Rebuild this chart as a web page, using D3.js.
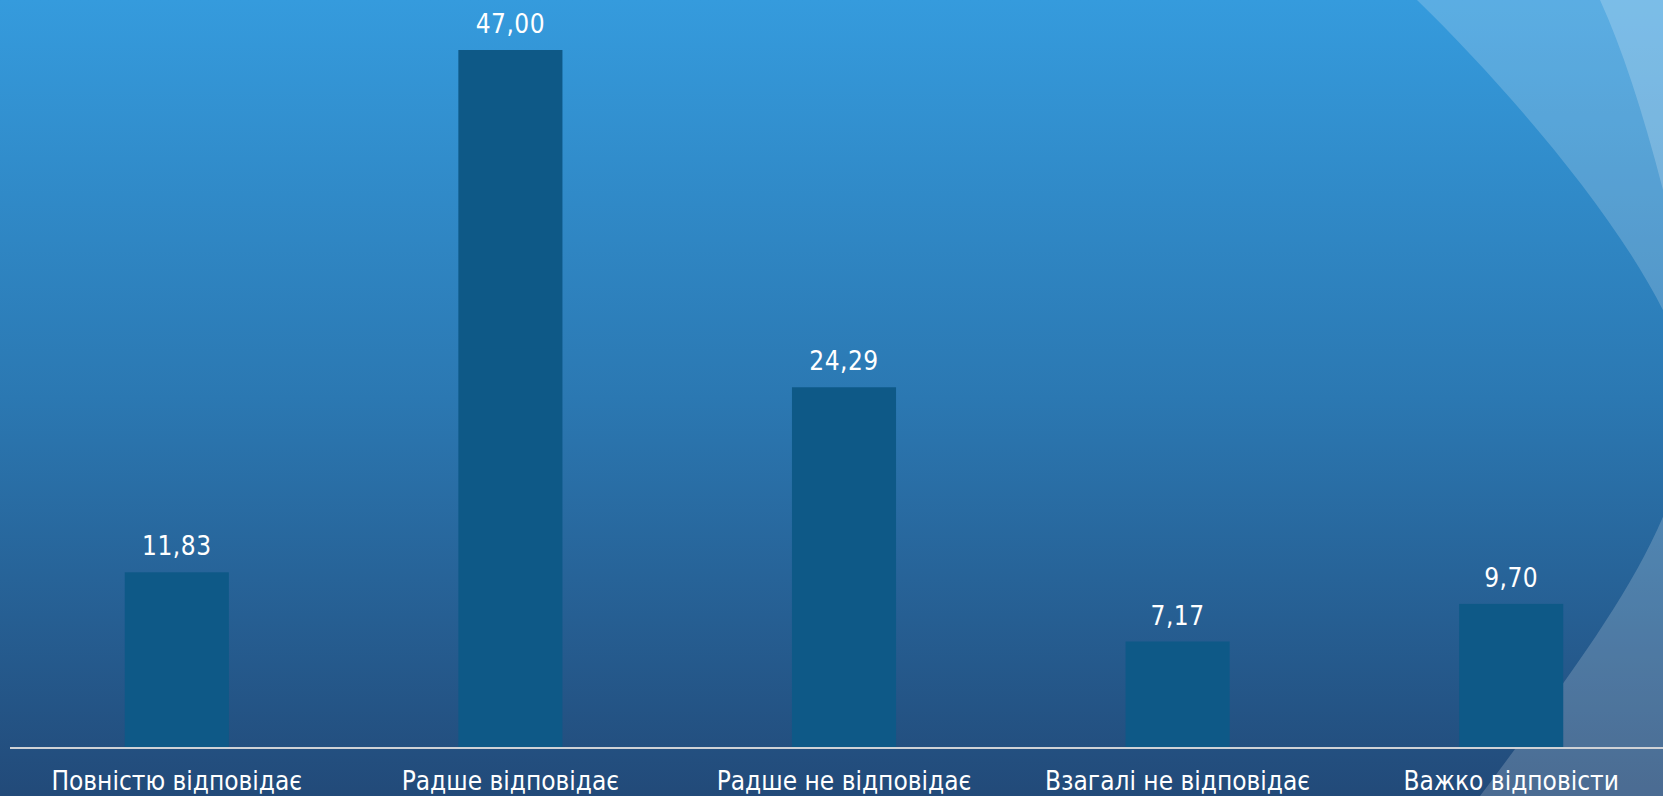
<!DOCTYPE html>
<html>
<head>
<meta charset="utf-8">
<script src="https://cdn.jsdelivr.net/npm/d3@7"></script>
<style>
  html, body { margin: 0; padding: 0; overflow: hidden; background: #2b77b0; }
  svg { display: block; }
</style>
</head>
<body>
<svg id="chart" width="1663" height="796"></svg>
<script>
// ---- data ----
const categories = ["Повністю відповідає", "Радше відповідає", "Радше не відповідає", "Взагалі не відповідає", "Важко відповісти"];
const values = [11.83, 47.00, 24.29, 7.17, 9.70];

// ---- layout ----
const W = 1663, H = 796;
const svg = d3.select("#chart");
const defs = svg.append("defs");

const grad = defs.append("linearGradient").attr("id", "bg")
  .attr("x1", 0).attr("y1", 0).attr("x2", 0).attr("y2", 1);
grad.append("stop").attr("offset", "0%").attr("stop-color", "#359bdd");
grad.append("stop").attr("offset", "50%").attr("stop-color", "#2b78b2");
grad.append("stop").attr("offset", "100%").attr("stop-color", "#224a79");

svg.append("rect").attr("width", W).attr("height", H).attr("fill", "url(#bg)");

// decorative translucent swoosh (background design, not data)
const sw = d3.path();
sw.moveTo(1417, 0);
sw.bezierCurveTo(1530, 110, 1690, 300, 1690, 400);
sw.bezierCurveTo(1690, 520, 1592, 646, 1480, 796);
sw.lineTo(1700, 796); sw.lineTo(1700, 0); sw.closePath();
svg.append("path").attr("d", sw.toString())
  .attr("fill", "#ffffff").attr("fill-opacity", 0.19);

const st = d3.path();
st.moveTo(1600, 0);
st.quadraticCurveTo(1632, 70, 1663, 190);
st.quadraticCurveTo(1675, 240, 1690, 320);
st.lineTo(1700, 320); st.lineTo(1700, 0); st.closePath();
svg.append("path").attr("d", st.toString())
  .attr("fill", "#ffffff").attr("fill-opacity", 0.2);

// scales
const x = d3.scaleBand().domain(categories).range([10, 1678])
  .paddingInner(0.688).paddingOuter(0.344);
const y = d3.scaleLinear().domain([0, 47]).range([748, 50]);

const fmt = v => d3.format(".2f")(v).replace(".", ",");
const FONT = "'DejaVu Sans Condensed', 'DejaVu Sans', sans-serif";

// bars
svg.append("g").selectAll("rect").data(values).join("rect")
  .attr("x", (d, i) => x(categories[i]))
  .attr("y", d => y(d))
  .attr("width", x.bandwidth())
  .attr("height", d => y(0) - y(d))
  .attr("fill", "#0e5987");

// value labels
svg.append("g").selectAll("text").data(values).join("text")
  .attr("x", (d, i) => x(categories[i]) + x.bandwidth() / 2)
  .attr("y", d => y(d) - 17)
  .attr("text-anchor", "middle")
  .attr("fill", "#ffffff")
  .attr("font-family", FONT)
  .attr("font-size", 26)
  .attr("letter-spacing", 0.5)
  .text(d => fmt(d));

// x axis
const xAxis = d3.axisBottom(x).tickSize(0).tickPadding(0);
const gx = svg.append("g").attr("transform", `translate(0,${y(0)})`).call(xAxis);
gx.select(".domain").attr("d", `M10,0H${W}`).attr("stroke", "#cfd2d6").attr("stroke-width", 2.2);
gx.selectAll(".tick text")
  .attr("y", 42).attr("dy", 0)
  .attr("fill", "#ffffff")
  .attr("font-family", FONT)
  .attr("font-size", 26);
</script>
</body>
</html>
